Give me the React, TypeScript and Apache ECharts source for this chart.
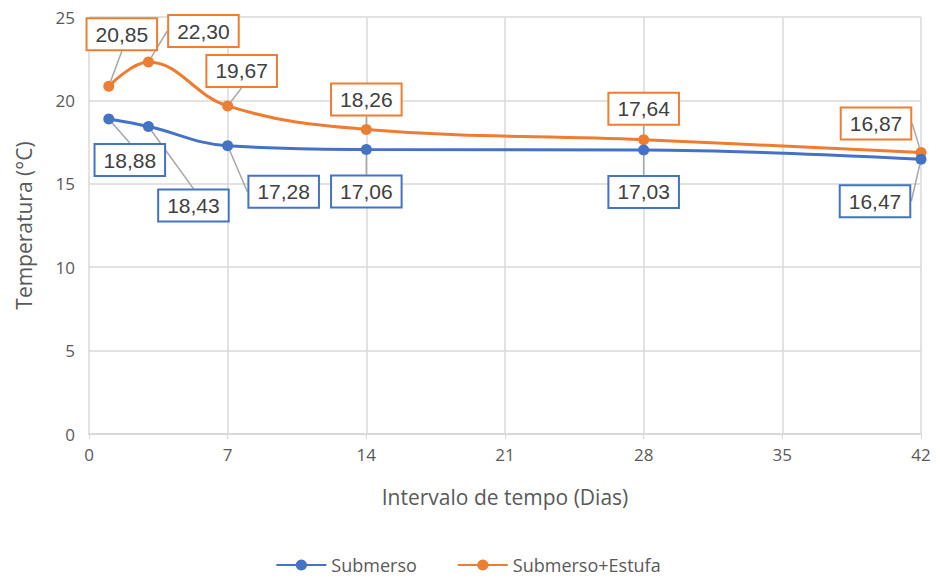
import React, { useEffect, useRef } from "react";
import * as echarts from "echarts";

const days = [1, 3, 7, 14, 28, 42];
const submerso = [18.88, 18.43, 17.28, 17.06, 17.03, 16.47];
const submersoEstufa = [20.85, 22.3, 19.67, 18.26, 17.64, 16.87];
const xTicks = [0, 7, 14, 21, 28, 35, 42];

// label offsets (label centre relative to point), layout only
const offsBlue = [[21, 41], [45, 79], [56, 46], [0, 42], [0, 42], [-46, 42]];
const offsOrange = [[13, -52], [55, -31], [14, -35], [0, -30], [0, -31], [-45, -29]];

const BLUE = "#4472C4";
const ORANGE = "#ED7D31";
const FONT = "'Open Sans', 'Liberation Sans', sans-serif";

function fmt(v: number) {
  return v.toFixed(2).replace(".", ",");
}

function mkSeries(name: string, vals: number[], color: string, offs: number[][]) {
  return {
    name,
    type: "line",
    smooth: 0.4,
    data: days.map((d, i) => [d, vals[i]]),
    symbol: "circle",
    symbolSize: 11,
    lineStyle: { color, width: 3 },
    itemStyle: { color },
    label: {
      show: true,
      position: "inside",
      formatter: (p: any) => fmt(p.value[1]),
      fontFamily: "'Liberation Sans', Arial, sans-serif",
      fontSize: 21,
      color: "#404040",
      backgroundColor: "#fff",
      borderColor: color,
      borderWidth: 2,
      padding: [5, 8, 4, 8],
    },
    labelLine: { show: true, lineStyle: { color: "#A6A6A6", width: 1.5 } },
    labelLayout: (p: any) => ({ dx: offs[p.dataIndex][0], dy: offs[p.dataIndex][1] }),
    z: name === "Submerso" ? 3 : 2,
  };
}

export default function App() {
  const ref = useRef<HTMLDivElement>(null);
  useEffect(() => {
    const chart = echarts.init(ref.current!, undefined, { renderer: "svg" });
    chart.setOption({
      animation: false,
      backgroundColor: "#fff",
      grid: { left: 89, right: 15, top: 17, bottom: 147, containLabel: false, outerBoundsMode: "none" },
      xAxis: {
        type: "value",
        min: 0,
        max: 42,
        interval: 7,
        name: "Intervalo de tempo (Dias)",
        nameLocation: "middle",
        nameGap: 52,
        nameTextStyle: { fontFamily: FONT, fontSize: 21, color: "#595959" },
        axisLine: { show: true, lineStyle: { color: "#D9D9D9", width: 2 } },
        axisTick: { show: true, length: 5, lineStyle: { color: "#D9D9D9" } },
        axisLabel: { fontFamily: FONT, fontSize: 17, color: "#595959", margin: 12, formatter: (v: number) => (xTicks.includes(v) ? String(v) : "") },
        splitLine: { show: true, lineStyle: { color: "#D9D9D9", width: 1.5 } },
      },
      yAxis: {
        type: "value",
        min: 0,
        max: 25,
        interval: 5,
        name: "Temperatura (°C)",
        nameLocation: "middle",
        nameGap: 55,
        nameTextStyle: { fontFamily: FONT, fontSize: 21, color: "#595959" },
        axisLine: { show: false },
        axisTick: { show: false },
        axisLabel: { fontFamily: FONT, fontSize: 17, color: "#595959", margin: 14 },
        splitLine: { show: true, lineStyle: { color: "#D9D9D9", width: 1.5 } },
      },
      legend: {
        bottom: 2,
        left: "center",
        itemWidth: 50,
        itemHeight: 14,
        itemGap: 40,
        textStyle: { fontFamily: FONT, fontSize: 18, color: "#595959" },
        data: ["Submerso", "Submerso+Estufa"],
      },
      series: [
        mkSeries("Submerso+Estufa", submersoEstufa, ORANGE, offsOrange),
        mkSeries("Submerso", submerso, BLUE, offsBlue),
      ],
    });
    return () => chart.dispose();
  }, []);
  return (
    <div
      ref={ref}
      style={{ position: "absolute", left: 0, top: 0, width: 936, height: 581 }}
    />
  );
}
